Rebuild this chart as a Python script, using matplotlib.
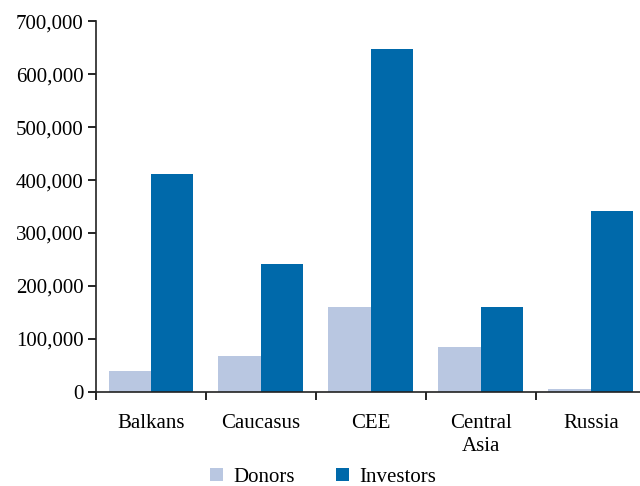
import numpy as np
from matplotlib import pyplot as plt
from matplotlib.ticker import FuncFormatter

plt.rcParams['font.family'] = ['Liberation Serif', 'DejaVu Serif']

regions = ["Balkans", "Caucasus", "CEE", "Central\nAsia", "Russia"]
donors = [40000, 67000, 160000, 84000, 5000]
investors = [412000, 242000, 648000, 160000, 342000]

c_donors = "#b9c7e1"
c_investors = "#0069aa"

fig = plt.figure(figsize=(6.4, 4.86), dpi=100)
ax = fig.add_axes([0.15, 0.194, 0.859, 0.762])

x = np.arange(len(regions))
w = 0.386
ax.bar(x - w / 2, donors, w, color=c_donors, label="Donors")
ax.bar(x + w / 2, investors, w, color=c_investors, label="Investors")

ax.set_xlim(-0.5, len(regions) - 0.5)
ax.set_ylim(0, 700000)
ax.set_yticks(np.arange(0, 700001, 100000))
ax.yaxis.set_major_formatter(FuncFormatter(lambda v, p: f"{int(v):,}"))

# category labels in the middle, ticks at the boundaries
ax.set_xticks(x)
ax.set_xticklabels(regions, fontsize=15, linespacing=1.3)
ax.tick_params(axis='x', which='major', length=0, pad=16)
ax.set_xticks(np.arange(-0.5, len(regions), 1.0), minor=True)
ax.tick_params(axis='x', which='minor', length=6, width=1.2, direction='out')
ax.tick_params(axis='y', length=6, width=1.2, direction='out', labelsize=15, pad=3)

for s in ["top", "right"]:
    ax.spines[s].set_visible(False)
for s in ["left", "bottom"]:
    ax.spines[s].set_linewidth(1.2)
    ax.spines[s].set_color("#222222")

fig.legend(loc='lower center', bbox_to_anchor=(0.505, -0.04), ncol=2, frameon=False,
           fontsize=15, handlelength=0.6, handleheight=0.6, handletextpad=0.5,
           columnspacing=2.0)

plt.savefig("out.png", dpi=100)
